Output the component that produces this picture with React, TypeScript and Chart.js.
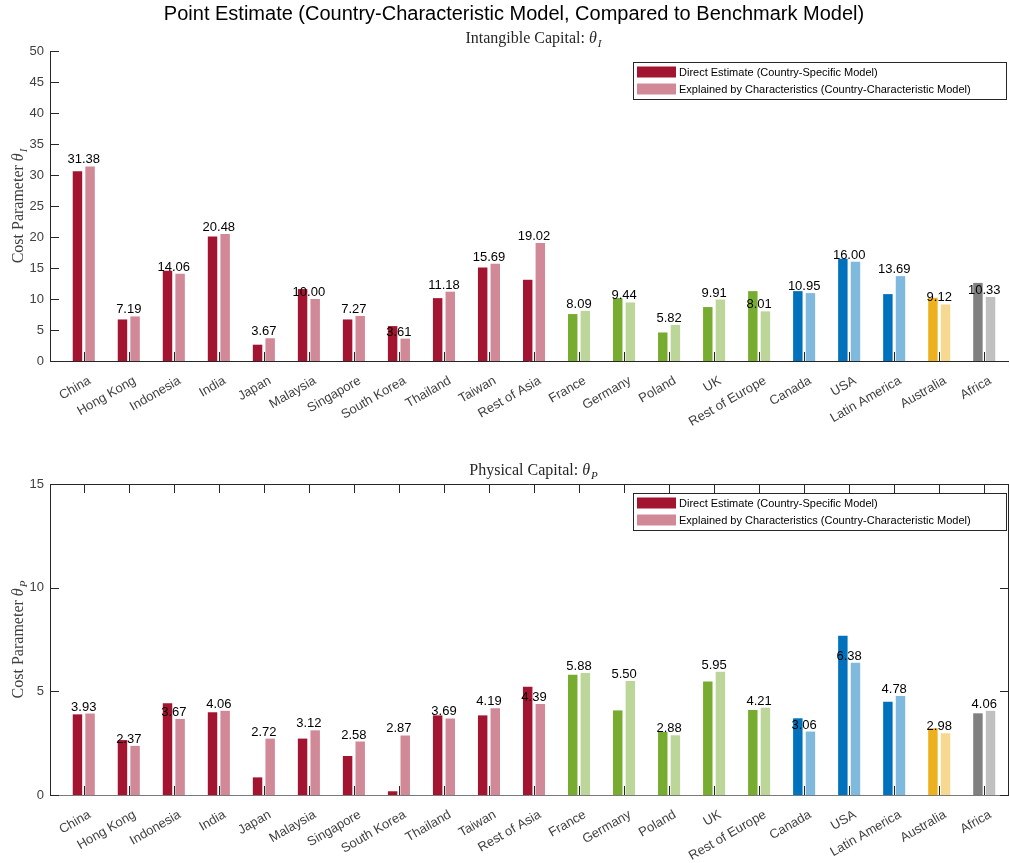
import { useEffect, useRef } from "react";
import { Chart, registerables } from "chart.js";

Chart.register(...registerables);

// Countries / regions along the x axis
const categories = [
  "China", "Hong Kong", "Indonesia", "India", "Japan", "Malaysia", "Singapore",
  "South Korea", "Thailand", "Taiwan", "Rest of Asia", "France", "Germany",
  "Poland", "UK", "Rest of Europe", "Canada", "USA", "Latin America",
  "Australia", "Africa",
];
const regionOf = [
  "asia", "asia", "asia", "asia", "asia", "asia", "asia", "asia", "asia", "asia", "asia",
  "europe", "europe", "europe", "europe", "europe",
  "americas", "americas", "americas",
  "oceania", "africa",
];

// Intangible capital cost parameter θ_I
const intangibleDirect = [
  30.6, 6.7, 14.55, 20.1, 2.63, 11.6, 6.7, 5.63, 10.14, 15.08, 13.1,
  7.57, 10.14, 4.6, 8.7, 11.27, 11.27, 16.5, 10.79, 10.2, 12.6,
];
const intangibleExplained = [
  31.38, 7.19, 14.06, 20.48, 3.67, 10.0, 7.27, 3.61, 11.18, 15.69, 19.02,
  8.09, 9.44, 5.82, 9.91, 8.01, 10.95, 16.0, 13.69, 9.12, 10.33,
];

// Physical capital cost parameter θ_P
const physicalDirect = [
  3.89, 2.65, 4.42, 3.99, 0.85, 2.72, 1.88, 0.18, 3.84, 3.84, 5.22,
  5.8, 4.08, 3.04, 5.47, 4.1, 3.7, 7.68, 4.5, 3.22, 3.94,
];
const physicalExplained = [
  3.93, 2.37, 3.67, 4.06, 2.72, 3.12, 2.58, 2.87, 3.69, 4.19, 4.39,
  5.88, 5.5, 2.88, 5.95, 4.21, 3.06, 6.38, 4.78, 2.98, 4.06,
];

const intangibleTicks = [0, 5, 10, 15, 20, 25, 30, 35, 40, 45, 50];
const physicalTicks = [0, 5, 10, 15];

const seriesNames = [
  "Direct Estimate (Country-Specific Model)",
  "Explained by Characteristics (Country-Characteristic Model)",
];

const darkColor: Record<string, string> = {
  asia: "#A2142F",
  europe: "#77AC30",
  americas: "#0072BD",
  oceania: "#EDB120",
  africa: "#808080",
};
const lightColor: Record<string, string> = {
  asia: "#D18997",
  europe: "#BBD698",
  americas: "#80B9DE",
  oceania: "#F6D890",
  africa: "#C0C0C0",
};

const SANS = '"Liberation Sans", Arial, Helvetica, sans-serif';
const SERIF = '"Liberation Serif", "DejaVu Serif", "Times New Roman", serif';
const AXIS_DARK = "#262626";
const TICK_TEXT = "#404040";

Chart.defaults.font.family = SANS;

type PanelSpec = {
  direct: number[];
  explained: number[];
  yTicks: number[];
  height: number;
  areaTop: number;
  areaBottom: number;
  boxed: boolean;
  mainTitle?: string;
  mainTitleY: number;
  subTitle: string;
  subTitleSym: string;
  subTitleY: number;
  yTitleSym: string;
  legendTop: number;
};

// Draws "prefix θ_sub" with a serif upright prefix and italic theta/subscript.
function drawThetaText(
  ctx: CanvasRenderingContext2D,
  prefix: string,
  sub: string,
  cx: number,
  baseline: number,
  size: number,
  color: string
) {
  ctx.fillStyle = color;
  ctx.textBaseline = "alphabetic";
  ctx.textAlign = "left";
  const fMain = `${size}px ${SERIF}`;
  const fTheta = `italic ${size}px ${SERIF}`;
  const fSub = `italic ${Math.round(size * 0.7)}px ${SERIF}`;
  ctx.font = fMain;
  const w1 = ctx.measureText(prefix).width;
  ctx.font = fTheta;
  const w2 = ctx.measureText("θ").width;
  ctx.font = fSub;
  const w3 = ctx.measureText(sub).width;
  let x = cx - (w1 + w2 + w3 + 1) / 2;
  ctx.font = fMain;
  ctx.fillText(prefix, x, baseline);
  x += w1;
  ctx.font = fTheta;
  ctx.fillText("θ", x, baseline);
  x += w2 + 1;
  ctx.font = fSub;
  ctx.fillText(sub, x, baseline + size * 0.25);
}

const decorPlugin = {
  id: "decor",
  afterDraw(chart: any, _args: any, opts: any) {
    const spec: PanelSpec = opts.spec;
    const { ctx, chartArea: a, scales } = chart;
    const xs = scales.x;
    const ys = scales.y;
    const tickLen = 9;
    ctx.save();

    // Axis lines
    ctx.lineWidth = 1;
    ctx.strokeStyle = AXIS_DARK;
    ctx.beginPath();
    ctx.moveTo(a.left + 0.5, a.top);
    ctx.lineTo(a.left + 0.5, a.bottom + 0.5);
    if (spec.boxed) {
      ctx.moveTo(a.left, a.top + 0.5);
      ctx.lineTo(a.right - 0.5, a.top + 0.5);
      ctx.lineTo(a.right - 0.5, a.bottom);
    }
    ctx.stroke();
    ctx.strokeStyle = spec.boxed ? "#7a7a7a" : AXIS_DARK;
    ctx.beginPath();
    ctx.moveTo(a.left, a.bottom + 0.5);
    ctx.lineTo(a.right, a.bottom + 0.5);
    ctx.stroke();

    // Inward tick marks
    ctx.strokeStyle = AXIS_DARK;
    ctx.beginPath();
    categories.forEach((_, i) => {
      const px = Math.round(xs.getPixelForValue(i + 1)) + 0.5;
      ctx.moveTo(px, a.bottom);
      ctx.lineTo(px, a.bottom - tickLen);
      if (spec.boxed) {
        ctx.moveTo(px, a.top);
        ctx.lineTo(px, a.top + tickLen);
      }
    });
    spec.yTicks.forEach((v) => {
      const py = Math.round(ys.getPixelForValue(v)) + 0.5;
      ctx.moveTo(a.left, py);
      ctx.lineTo(a.left + tickLen, py);
      if (spec.boxed) {
        ctx.moveTo(a.right, py);
        ctx.lineTo(a.right - tickLen, py);
      }
    });
    ctx.stroke();

    // Value labels for the explained series, centred on each category
    ctx.fillStyle = "#000000";
    ctx.font = `13px ${SANS}`;
    ctx.textAlign = "center";
    ctx.textBaseline = "alphabetic";
    spec.explained.forEach((v, i) => {
      const px = xs.getPixelForValue(i + 1);
      const py = ys.getPixelForValue(v);
      ctx.fillText(v.toFixed(2), px, py - 3);
    });

    // Legend box (top-right)
    const lx = 633;
    const ly = spec.legendTop;
    const lw = 374;
    const lh = 38;
    ctx.fillStyle = "#ffffff";
    ctx.fillRect(lx, ly, lw, lh);
    ctx.strokeStyle = AXIS_DARK;
    ctx.strokeRect(lx + 0.5, ly + 0.5, lw - 1, lh - 1);
    const swatches = [darkColor.asia, lightColor.asia];
    ctx.font = `11px ${SANS}`;
    ctx.textAlign = "left";
    ctx.textBaseline = "middle";
    seriesNames.forEach((name, k) => {
      const cy = ly + 10 + k * 17;
      ctx.fillStyle = swatches[k];
      ctx.fillRect(lx + 4, cy - 5.5, 39, 11);
      ctx.fillStyle = "#000000";
      ctx.fillText(name, lx + 46, cy + 0.5);
    });

    // Figure title
    if (spec.mainTitle) {
      ctx.fillStyle = "#000000";
      ctx.font = `20px ${SANS}`;
      ctx.textAlign = "center";
      ctx.textBaseline = "middle";
      ctx.fillText(spec.mainTitle, 514, spec.mainTitleY);
    }

    // Panel title
    drawThetaText(
      ctx,
      spec.subTitle,
      spec.subTitleSym,
      (a.left + a.right) / 2 + 4,
      spec.subTitleY,
      16,
      AXIS_DARK
    );

    // Rotated y-axis title
    ctx.save();
    ctx.translate(18, (a.top + a.bottom) / 2);
    ctx.rotate(-Math.PI / 2);
    drawThetaText(ctx, "Cost Parameter ", spec.yTitleSym, 0, 5, 16, TICK_TEXT);
    ctx.restore();

    ctx.restore();
  },
};

function buildConfig(spec: PanelSpec): any {
  const yMax = spec.yTicks[spec.yTicks.length - 1];
  return {
    type: "bar",
    data: {
      datasets: [
        {
          label: seriesNames[0],
          data: spec.direct.map((v, i) => ({ x: i + 1, y: v })),
          backgroundColor: regionOf.map((r) => darkColor[r]),
          borderWidth: 0,
          categoryPercentage: 0.56,
          barPercentage: 0.75,
        },
        {
          label: seriesNames[1],
          data: spec.explained.map((v, i) => ({ x: i + 1, y: v })),
          backgroundColor: regionOf.map((r) => lightColor[r]),
          borderWidth: 0,
          categoryPercentage: 0.56,
          barPercentage: 0.75,
        },
      ],
    },
    plugins: [decorPlugin],
    options: {
      responsive: false,
      animation: false,
      events: [],
      layout: { padding: { top: spec.areaTop, left: 0, right: 1, bottom: 0 } },
      plugins: {
        legend: { display: false },
        tooltip: { enabled: false },
        title: { display: false },
        decor: { spec },
      },
      scales: {
        x: {
          type: "linear",
          offset: false,
          min: 0.25,
          max: 21.55,
          grid: { display: false, drawTicks: false },
          border: { display: false },
          afterBuildTicks: (s: any) => {
            s.ticks = categories.map((_, i) => ({ value: i + 1 }));
          },
          afterFit: (s: any) => {
            s.height = spec.height - spec.areaBottom;
          },
          ticks: {
            autoSkip: false,
            minRotation: 30,
            maxRotation: 30,
            padding: 12,
            labelOffset: 6,
            color: TICK_TEXT,
            font: { size: 13, family: SANS },
            callback: (v: number) => categories[Math.round(v) - 1] ?? "",
          },
        },
        y: {
          min: 0,
          max: yMax,
          grid: { display: false, drawTicks: false },
          border: { display: false },
          afterBuildTicks: (s: any) => {
            s.ticks = spec.yTicks.map((v) => ({ value: v }));
          },
          afterFit: (s: any) => {
            s.width = 50;
          },
          ticks: {
            padding: 6,
            color: TICK_TEXT,
            font: { size: 13, family: SANS },
          },
        },
      },
    },
  };
}

const topPanel: PanelSpec = {
  direct: intangibleDirect,
  explained: intangibleExplained,
  yTicks: intangibleTicks,
  height: 440,
  areaTop: 51,
  areaBottom: 361,
  boxed: false,
  mainTitle: "Point Estimate (Country-Characteristic Model, Compared to Benchmark Model)",
  mainTitleY: 14,
  subTitle: "Intangible Capital: ",
  subTitleSym: "I",
  subTitleY: 43,
  yTitleSym: "I",
  legendTop: 62,
};

const bottomPanel: PanelSpec = {
  direct: physicalDirect,
  explained: physicalExplained,
  yTicks: physicalTicks,
  height: 423,
  areaTop: 44,
  areaBottom: 355,
  boxed: true,
  mainTitleY: 0,
  subTitle: "Physical Capital: ",
  subTitleSym: "P",
  subTitleY: 35,
  yTitleSym: "P",
  legendTop: 53,
};

function Panel({ spec, top }: { spec: PanelSpec; top: number }) {
  const ref = useRef<HTMLCanvasElement | null>(null);
  useEffect(() => {
    if (!ref.current) return;
    const chart = new Chart(ref.current, buildConfig(spec));
    return () => chart.destroy();
  }, [spec]);
  return (
    <canvas
      ref={ref}
      width={1010}
      height={spec.height}
      style={{ position: "absolute", left: 0, top, width: 1010, height: spec.height, display: "block" }}
    />
  );
}

export default function App() {
  return (
    <div
      style={{
        position: "absolute",
        left: 0,
        top: 0,
        width: 1010,
        height: 863,
        background: "#ffffff",
        overflow: "hidden",
      }}
    >
      <Panel spec={topPanel} top={0} />
      <Panel spec={bottomPanel} top={440} />
    </div>
  );
}
